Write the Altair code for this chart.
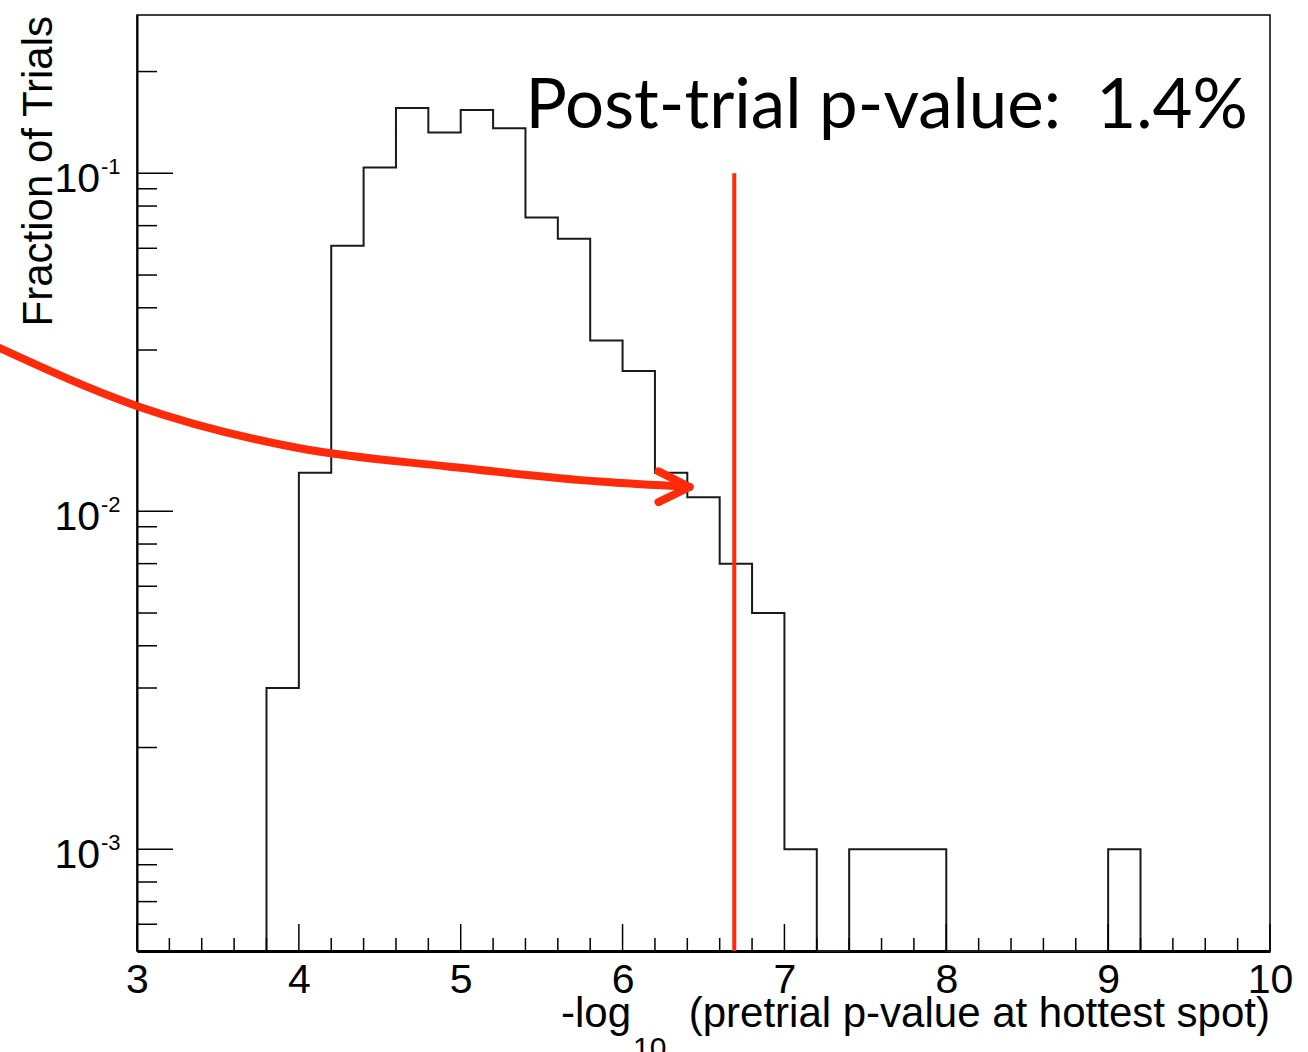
import altair as alt
import pandas as pd

# ---------------- data ----------------
BIN_LOW = [3.8, 4.0, 4.2, 4.4, 4.6, 4.8, 5.0, 5.2, 5.4, 5.6, 5.8, 6.0, 6.2, 6.4,
           6.6, 6.8, 7.0, 7.2, 7.4, 7.6, 7.8, 8.0, 8.2, 8.4, 8.6, 8.8, 9.0]
FRACTION = [0.003, 0.013, 0.061, 0.104, 0.156, 0.132, 0.154, 0.136, 0.074, 0.064,
            0.032, 0.026, 0.013, 0.011, 0.007, 0.005, 0.001, 0.0, 0.001, 0.001,
            0.001, 0.0, 0.0, 0.0, 0.0, 0.0, 0.001]
BIN_WIDTH = 0.2

X_DOMAIN = [3, 10]
Y_DOMAIN = [5e-4, 0.294]
X_LABELS = [3, 4, 5, 6, 7, 8, 9, 10]
Y_DECADES = [1e-3, 1e-2, 1e-1]
Y_DECADE_BASE = ["10", "10", "10"]
Y_DECADE_EXP = ["-3", "-2", "-1"]

THRESHOLD_X = 6.69          # red vertical line
THRESHOLD_TOP = 0.1

# red arrow (annotation) in data coordinates
ARROW_X = [2.152, 2.998, 4.005, 4.931, 5.858, 6.414]
ARROW_Y = [0.0304, 0.0205, 0.01536, 0.01355, 0.01224, 0.0118]
HEAD_X = [6.222, 6.414, 6.222]
HEAD_Y = [0.01312, 0.0118, 0.01065]

ANNOT_TEXT = ["Post-trial p-value:\u00a0 1.4%"]
ANNOT_X = [5.40]
ANNOT_Y = [0.136]

Y_TITLE = ["Fraction of Trials"]
X_TITLE_MAIN = ["(pretrial p-value at hottest spot)"]
X_TITLE_LOG = ["-log"]
X_TITLE_SUB = ["10"]

W, H = 1133, 936
RED = "#ff2a0a"
FONT = "Liberation Sans"

# ---------------- derived tables ----------------
ymin = Y_DOMAIN[0]
step_x = [BIN_LOW[0]] + BIN_LOW + [BIN_LOW[-1] + BIN_WIDTH]
step_y = [ymin] + [max(v, ymin) for v in FRACTION] + [ymin]
hist_df = pd.DataFrame({"x": step_x, "y": step_y, "i": range(len(step_x))})

x_major = X_LABELS
x_minor = [round(3 + 0.2 * k, 1) for k in range(36) if k % 5 != 0]
y_minor = [m * 10.0 ** e for e in (-4, -3, -2, -1) for m in range(2, 10)
           if Y_DOMAIN[0] < m * 10.0 ** e < Y_DOMAIN[1]]

xs = alt.Scale(domain=X_DOMAIN, nice=False, zero=False)
ys = alt.Scale(type="log", domain=Y_DOMAIN, nice=False)

X = lambda **kw: alt.X("x:Q", scale=xs, title=None, **kw)
Y = lambda **kw: alt.Y("y:Q", scale=ys, title=None, **kw)

hist = alt.Chart(hist_df).mark_line(
    interpolate="step-after", color="#1a1a1a", strokeWidth=2
).encode(
    x=X(axis=alt.Axis(values=X_LABELS, format="d", tickSize=0, labelFontSize=41,
                      labelFont=FONT, labelColor="black", labelPadding=9,
                      labelFlush=False, labelOverlap=False,
                      domainColor="black", domainWidth=3, grid=False)),
    y=Y(axis=alt.Axis(labels=False, ticks=False, grid=False,
                      domainColor="black", domainWidth=2)),
    order="i:Q",
)

xmaj = alt.Chart(pd.DataFrame({"x": x_major})).mark_rule(color="black", strokeWidth=1.5).encode(
    x=X(), y=alt.value(H), y2=alt.value(H - 27))
xmin_ = alt.Chart(pd.DataFrame({"x": x_minor})).mark_rule(color="black", strokeWidth=1.5).encode(
    x=X(), y=alt.value(H), y2=alt.value(H - 13))
ymaj = alt.Chart(pd.DataFrame({"y": Y_DECADES})).mark_rule(color="black", strokeWidth=1.5).encode(
    y=Y(), x=alt.value(0), x2=alt.value(36))
ymin_t = alt.Chart(pd.DataFrame({"y": y_minor})).mark_rule(color="black", strokeWidth=1.5).encode(
    y=Y(), x=alt.value(0), x2=alt.value(20))

lab_df = pd.DataFrame({"y": Y_DECADES, "b": Y_DECADE_BASE, "e": Y_DECADE_EXP})
ylab = alt.Chart(lab_df).mark_text(
    align="right", baseline="alphabetic", dy=19, fontSize=41, font=FONT, color="black", clip=False
).encode(y=Y(), x=alt.value(-37), text="b:N")
yexp = alt.Chart(lab_df).mark_text(
    align="left", baseline="alphabetic", dy=1, fontSize=22, font=FONT, color="black", clip=False
).encode(y=Y(), x=alt.value(-36), text="e:N")

ytitle = alt.Chart(pd.DataFrame({"t": Y_TITLE})).mark_text(
    angle=270, align="right", baseline="alphabetic", fontSize=42, font=FONT, color="black", clip=False
).encode(x=alt.value(-85), y=alt.value(1), text="t:N")

xt_main = alt.Chart(pd.DataFrame({"t": X_TITLE_MAIN})).mark_text(
    align="right", baseline="alphabetic", fontSize=42, font=FONT, color="black", clip=False
).encode(x=alt.value(W), y=alt.value(1012), text="t:N")
xt_log = alt.Chart(pd.DataFrame({"t": X_TITLE_LOG})).mark_text(
    align="right", baseline="alphabetic", fontSize=42, font=FONT, color="black", clip=False
).encode(x=alt.value(494), y=alt.value(1012), text="t:N")
xt_sub = alt.Chart(pd.DataFrame({"t": X_TITLE_SUB})).mark_text(
    align="left", baseline="alphabetic", fontSize=30, font=FONT, color="black", clip=False
).encode(x=alt.value(496), y=alt.value(1043), text="t:N")

vline = alt.Chart(pd.DataFrame({"x": [THRESHOLD_X], "y": [THRESHOLD_TOP], "y2": [ymin]})).mark_rule(
    color=RED, strokeWidth=4
).encode(x=X(), y=Y(), y2="y2:Q")

arrow = alt.Chart(pd.DataFrame({"x": ARROW_X, "y": ARROW_Y, "i": range(len(ARROW_X))})).mark_line(
    color=RED, strokeWidth=8, interpolate="monotone", strokeCap="round", clip=False
).encode(x=X(), y=Y(), order="i:Q")
head = alt.Chart(pd.DataFrame({"x": HEAD_X, "y": HEAD_Y, "i": range(3)})).mark_line(
    color=RED, strokeWidth=8, strokeCap="round", strokeJoin="round", clip=False
).encode(x=X(), y=Y(), order="i:Q")

annot = alt.Chart(pd.DataFrame({"x": ANNOT_X, "y": ANNOT_Y, "t": ANNOT_TEXT})).mark_text(
    align="left", baseline="alphabetic", fontSize=69, font="Lato", color="black", clip=False
).encode(x=X(), y=Y(), text="t:N")

chart = alt.layer(
    hist, xmaj, xmin_, ymaj, ymin_t, vline, arrow, head,
    ylab, yexp, ytitle, xt_main, xt_log, xt_sub, annot
).properties(
    width=W, height=H,
    padding={"left": 137, "top": 15, "right": 38, "bottom": 101},
    autosize=alt.AutoSizeParams(type="none"),
    background="white",
).configure_view(stroke="black", strokeWidth=1.5)

chart.save("out.html", embed_options={"renderer": "svg", "actions": False})
